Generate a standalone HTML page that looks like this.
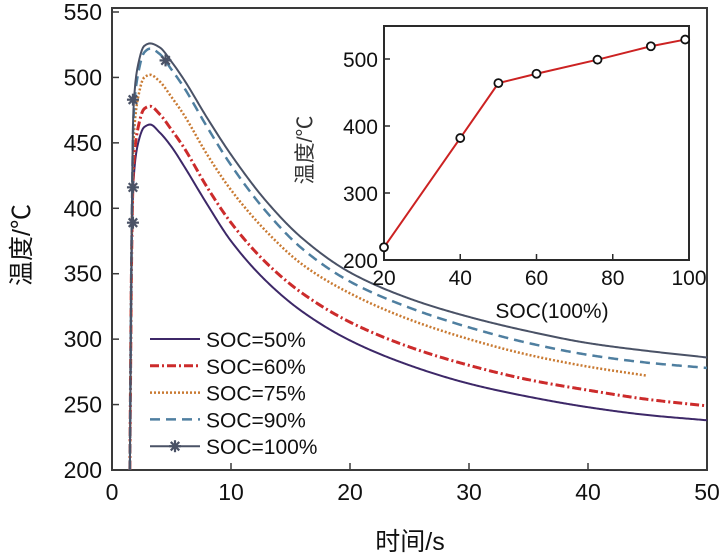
<!DOCTYPE html>
<html><head><meta charset="utf-8"><style>
body{margin:0;background:#fff}
svg{display:block;font-family:"Liberation Sans","Noto Sans CJK SC",sans-serif}
</style></head><body>
<svg id="c" width="728" height="559" viewBox="0 0 728 559"></svg>
<script>
const tVals=[1.5,1.65,1.8,2.2,2.7,3.2,4,5,6,8,10,13,16,20,25,30,35,40,45,50];
const soc50=[200,360,420,450,462,464,458,447,433,403,375,344,321,299,280,266,256,248,242,238];
const soc60=[200,365,430,462,476,478,472,460,447,416,389,358,335,313,294,280,269,261,254,249];
const soc75=[200,372,450,485,500,502,497,485,472,441,414,382,357,335,315,300,288,279,272];
const soc90=[200,378,468,503,519,522,518,506,493,462,433,397,369,344,324,309,297,288,282,278];
const soc100=[200,382,475,510,524,526,523,512,499,469,441,405,377,351,331,317,306,297,291,286];
const starT=[1.76,1.76,1.76,4.5];
const starV=[389,416,483,513];
const xTicks=[0,10,20,30,40,50];
const yTicks=[200,250,300,350,400,450,500,550];
const insetSoc=[20,40,50,60,76,90,99];
const insetTemp=[219,382,464,478,499,519,529];
const insetXTicks=[20,40,60,80,100];
const insetYTicks=[200,300,400,500];
const legendLabels=['SOC=50%','SOC=60%','SOC=75%','SOC=90%','SOC=100%'];

const NS='http://www.w3.org/2000/svg';
const svg=document.getElementById('c');
function mk(tag,at,parent){const e=document.createElementNS(NS,tag);for(const k in at)e.setAttribute(k,at[k]);(parent||svg).appendChild(e);return e;}
const X=t=>112+(t-0)*(707-112)/50;
const Y=v=>470-(v-200)*(470-12)/350;
const IX=s=>384+(s-20)*(689-384)/80;
const IY=v=>260-(v-200)*0.67;

// monotone cubic (Fritsch-Carlson) path through (xs, ys)
function monoPath(xs,ys){
 const n=xs.length,d=[],m=[];
 for(let i=0;i<n-1;i++)d.push((ys[i+1]-ys[i])/(xs[i+1]-xs[i]));
 m[0]=d[0];m[n-1]=d[n-2];
 for(let i=1;i<n-1;i++){
  if(d[i-1]*d[i]<=0)m[i]=0;
  else{const h0=xs[i]-xs[i-1],h1=xs[i+1]-xs[i],w1=2*h1+h0,w2=h1+2*h0;m[i]=(w1+w2)/(w1/d[i-1]+w2/d[i]);}
 }
 let p='M'+X(xs[0])+','+Y(ys[0]);
 for(let i=0;i<n-1;i++){
  const h=xs[i+1]-xs[i];
  const steps=Math.max(4,Math.ceil(h*10));
  for(let k=1;k<=steps;k++){
   const s=k/steps,s2=s*s,s3=s2*s;
   const v=(2*s3-3*s2+1)*ys[i]+(s3-2*s2+s)*h*m[i]+(-2*s3+3*s2)*ys[i+1]+(s3-s2)*h*m[i+1];
   p+=' L'+X(xs[i]+s*h).toFixed(2)+','+Y(v).toFixed(2);
  }
 }
 return p;
}

let e=mk('rect',{x:112,y:8,width:595,height:462,fill:'none',stroke:'#3a3a3a','stroke-width':2});

xTicks.forEach(t=>{
 mk('line',{x1:X(t),x2:X(t),y1:470,y2:463,stroke:'#3a3a3a','stroke-width':1.5});
 const l=mk('text',{x:X(t),y:500,'font-size':23,'text-anchor':'middle',fill:'#111'});l.textContent=t;
 
});
yTicks.forEach(v=>{
 mk('line',{x1:112,x2:119,y1:Y(v),y2:Y(v),stroke:'#3a3a3a','stroke-width':1.5});
 const l=mk('text',{x:102,y:Y(v)+8,'font-size':23,'text-anchor':'end',fill:'#111'});l.textContent=v;
 
});
e=mk('text',{x:410,y:550,'font-size':25,'text-anchor':'middle',fill:'#111'});e.textContent='时间/s';

e=mk('text',{x:0,y:0,'font-size':25,'text-anchor':'middle',fill:'#111',transform:'translate(30,245) rotate(-90)'});e.textContent='温度/℃';


const series=[
 {v:soc50,c:'#3d2868',w:2,da:'',n:'series-soc50'},
 {v:soc60,c:'#cc2b2b',w:3,da:'9,3,2,3',n:'series-soc60'},
 {v:soc75,c:'#c97a32',w:2.5,da:'2,2',n:'series-soc75'},
 {v:soc90,c:'#4f7fa0',w:2.5,da:'10,6',n:'series-soc90'},
 {v:soc100,c:'#4a5266',w:2,da:'',n:'series-soc100'}];
series.forEach(s=>{
 const p=mk('path',{d:monoPath(tVals.slice(0,s.v.length),s.v),fill:'none',stroke:s.c,'stroke-width':s.w,'stroke-dasharray':s.da});
 
});
function star(cx,cy,r,col,name){const g=mk('g',{stroke:col,'stroke-width':2.2});
 for(let a=0;a<4;a++){const an=a*Math.PI/4;mk('line',{x1:cx-r*Math.cos(an),y1:cy-r*Math.sin(an),x2:cx+r*Math.cos(an),y2:cy+r*Math.sin(an)},g);}
 }
starT.forEach((t,i)=>star(X(t),Y(starV[i]),6,'#4a5266','soc100-marker'));

series.forEach((s,i)=>{
 const y=339+i*26.8;
 const g=mk('g',{});
 
 mk('line',{x1:150,x2:200,y1:y,y2:y,stroke:s.c,'stroke-width':s.w,'stroke-dasharray':s.da},g);
 if(i===4)star(175,y,6,'#4a5266','legend-star');
 const t=mk('text',{x:206,y:y+8,'font-size':21,fill:'#111'},g);t.textContent=legendLabels[i];
});

e=mk('rect',{x:384,y:26,width:305,height:234,fill:'#fff',stroke:'#2a2a2a','stroke-width':2});

insetXTicks.forEach(t=>{
 mk('line',{x1:IX(t),x2:IX(t),y1:260,y2:254,stroke:'#2a2a2a','stroke-width':1.5});
 const l=mk('text',{x:IX(t),y:285,'font-size':21,'text-anchor':'middle',fill:'#111'});l.textContent=t;
 
});
insetYTicks.forEach(v=>{
 mk('line',{x1:384,x2:390,y1:IY(v),y2:IY(v),stroke:'#2a2a2a','stroke-width':1.5});
 const l=mk('text',{x:378,y:IY(v)+8,'font-size':21,'text-anchor':'end',fill:'#111'});l.textContent=v;
 
});
e=mk('text',{x:552,y:318,'font-size':21,'text-anchor':'middle',fill:'#111'});e.textContent='SOC(100%)';

e=mk('text',{x:0,y:0,'font-size':21,'text-anchor':'middle',fill:'#333',transform:'translate(312,150) rotate(-90)'});e.textContent='温度/℃';

e=mk('polyline',{points:insetSoc.map((s,i)=>IX(s)+','+IY(insetTemp[i])).join(' '),fill:'none',stroke:'#cc2222','stroke-width':2});

insetSoc.forEach((s,i)=>{
 const c=mk('circle',{cx:IX(s),cy:IY(insetTemp[i]),r:4,fill:'#fff',stroke:'#111','stroke-width':1.8});
 
});
</script>
</body></html>
